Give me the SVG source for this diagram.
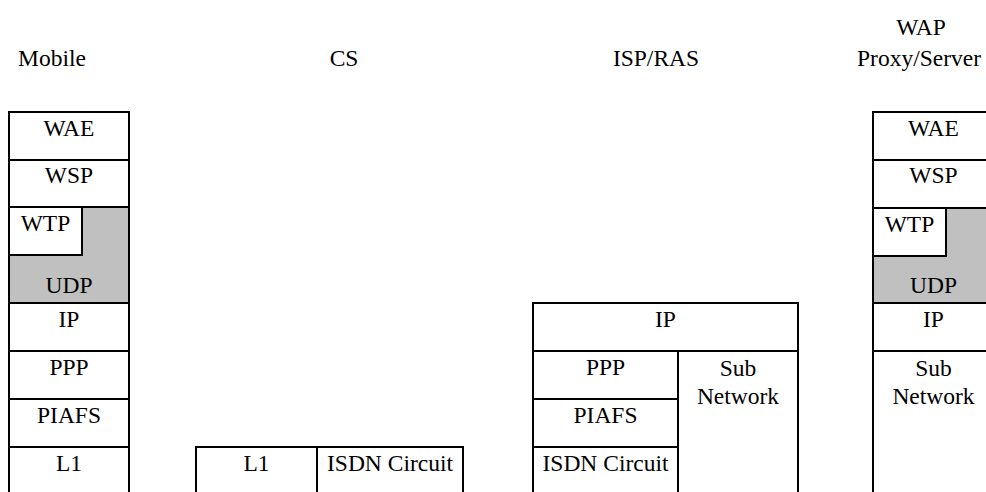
<svg xmlns="http://www.w3.org/2000/svg" width="986" height="492" viewBox="0 0 986 492" font-family="'Liberation Serif', 'Times New Roman', serif">
<style>
.b{fill:#fff;stroke:#000;stroke-width:2}
.g{fill:#c0c0c0;stroke:#000;stroke-width:2}
text{font-family:'Liberation Serif','Times New Roman',serif;font-size:23.5px;fill:#000;text-anchor:middle}
</style>
<rect width="986" height="492" fill="#fff"/>
<g id="titles">
<text x="52" y="66">Mobile</text>
<text x="344" y="66">CS</text>
<text x="656" y="66">ISP/RAS</text>
<text x="921" y="35">WAP</text>
<text x="919" y="66">Proxy/Server</text>
</g>
<g id="mobile">
<rect class="b" x="9" y="112" width="120" height="48"/><text x="69" y="136">WAE</text>
<rect class="b" x="9" y="160" width="120" height="47"/><text x="69" y="183">WSP</text>
<rect class="g" x="9" y="207" width="120" height="96"/>
<rect class="b" x="9" y="207" width="73" height="48"/><text x="45.5" y="231">WTP</text>
<text x="69" y="293">UDP</text>
<rect class="b" x="9" y="303" width="120" height="48"/><text x="69" y="327">IP</text>
<rect class="b" x="9" y="351" width="120" height="48"/><text x="69" y="375">PPP</text>
<rect class="b" x="9" y="399" width="120" height="48"/><text x="69" y="423">PIAFS</text>
<rect class="b" x="9" y="447" width="120" height="50"/><text x="69" y="471">L1</text>
</g>
<g id="cs">
<rect class="b" x="196" y="447" width="121" height="50"/><text x="256.5" y="471">L1</text>
<rect class="b" x="317" y="447" width="146" height="50"/><text x="390" y="471">ISDN Circuit</text>
</g>
<g id="isp">
<rect class="b" x="533" y="303" width="265" height="48"/><text x="665.5" y="327">IP</text>
<rect class="b" x="533" y="351" width="145" height="48"/><text x="605.5" y="375">PPP</text>
<rect class="b" x="533" y="399" width="145" height="48"/><text x="605.5" y="423">PIAFS</text>
<rect class="b" x="533" y="447" width="145" height="50"/><text x="605.5" y="471">ISDN Circuit</text>
<rect class="b" x="678" y="351" width="120" height="146"/><text x="738" y="376">Sub</text><text x="738" y="404">Network</text>
</g>
<g id="wap">
<rect class="b" x="873" y="112" width="121" height="48"/><text x="933.5" y="136">WAE</text>
<rect class="b" x="873" y="160" width="121" height="48"/><text x="933.5" y="183">WSP</text>
<rect class="g" x="873" y="208" width="121" height="95"/>
<rect class="b" x="873" y="208" width="73" height="48"/><text x="909.5" y="232">WTP</text>
<text x="933.5" y="293">UDP</text>
<rect class="b" x="873" y="303" width="121" height="48"/><text x="933.5" y="327">IP</text>
<rect class="b" x="873" y="351" width="121" height="146"/><text x="933.5" y="376">Sub</text><text x="933.5" y="404">Network</text>
</g>
<g id="connectors"/>
</svg>
